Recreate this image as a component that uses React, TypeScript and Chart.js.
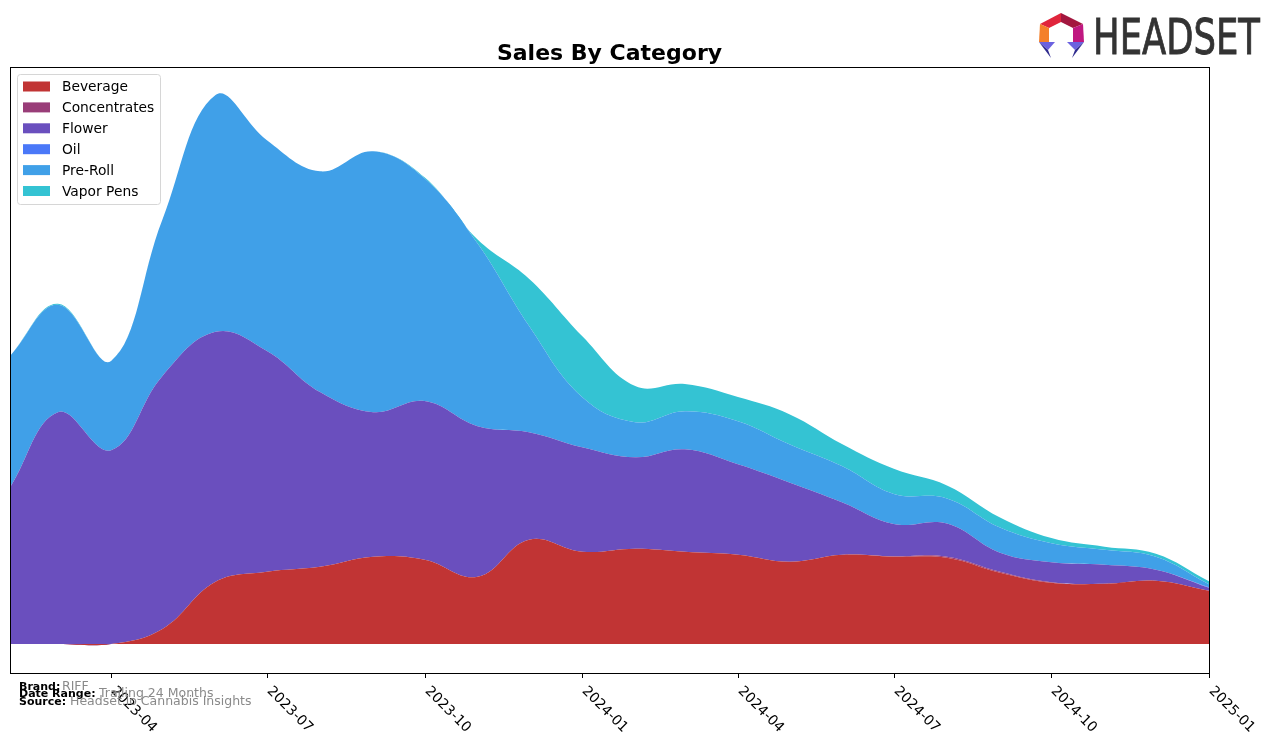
import React, { useEffect, useRef } from "react";
import { Chart, registerables } from "chart.js";

Chart.register(...registerables);

const months = [
  "2023-02", "2023-03", "2023-04", "2023-05", "2023-06", "2023-07", "2023-08", "2023-09",
  "2023-10", "2023-11", "2023-12", "2024-01", "2024-02", "2024-03", "2024-04", "2024-05",
  "2024-06", "2024-07", "2024-08", "2024-09", "2024-10", "2024-11", "2024-12", "2025-01",
];

const categories = ["Beverage", "Concentrates", "Flower", "Oil", "Pre-Roll", "Vapor Pens"];
const colors = ["#C13434", "#993D78", "#6A4FBE", "#4A78F8", "#40A0E8", "#34C3D3"];

const beverage = [0, 0, 0, 15, 62, 72, 77, 87, 84, 67, 104, 92, 95, 92, 89, 82, 89, 87, 86, 71, 61, 60, 63, 53];
const concentrates = [0, 0, 0, 0, 0, 0, 0, 0, 0, 0, 0, 0, 0, 0, 0, 0, 0, 0.5, 1, 1, 0.5, 0, 0, 0];
const flower = [156, 231, 193, 252, 249, 220, 174, 144, 158, 150, 107, 104, 91, 102, 90, 79, 52, 32, 33, 19, 20, 19, 11, 3];
const oil = [0, 0, 0, 0, 0, 0, 0, 0, 0, 0, 0, 0, 0, 0, 0, 0, 0, 0, 0, 0, 0, 0, 0, 0.5];
const preRoll = [131, 107, 89, 156, 236, 210, 220, 260, 222, 182, 106, 50, 35, 38, 43, 38, 36, 30, 25, 25, 19, 15, 13, 3];
const vaporPens = [0, 1, 0, 0, 0, 0, 0, 0, 1, 4, 47, 61, 36, 27, 24, 30, 22, 25, 13, 10, 5, 3, 3, 3];

const seriesValues = [beverage, concentrates, flower, oil, preRoll, vaporPens];

const tickLabels = ["2023-04", "2023-07", "2023-10", "2024-01", "2024-04", "2024-07", "2024-10", "2025-01"];

const brand = "RIFF";
const dateRange = "Trailing 24 Months";
const source = "Headset.io Cannabis Insights";
const title = "Sales By Category";

const base = Date.UTC(2023, 1, 1);
function dayOf(m: string): number {
  const [y, mo] = m.split("-").map(Number);
  return (Date.UTC(y, mo - 1, 1) - base) / 86400000;
}

const overlayPlugin = {
  id: "overlay",
  afterDraw(chart: any) {
    const { ctx, chartArea: a, scales } = chart;
    const xs = scales.x;
    ctx.save();

    // frame
    ctx.strokeStyle = "#000";
    ctx.lineWidth = 1;
    ctx.strokeRect(a.left + 0.5, a.top + 0.5, a.right - a.left, a.bottom - a.top);

    // x ticks & labels
    tickLabels.forEach((t) => {
      const px = Math.round(xs.getPixelForValue(dayOf(t)));
      ctx.beginPath();
      ctx.moveTo(px + 0.5, a.bottom);
      ctx.lineTo(px + 0.5, a.bottom + 5);
      ctx.stroke();
      ctx.save();
      ctx.translate(px + 7, a.bottom + 11);
      ctx.rotate(Math.PI / 4);
      ctx.font = '14px "DejaVu Sans"';
      ctx.fillStyle = "#000";
      ctx.textAlign = "left";
      ctx.textBaseline = "top";
      ctx.fillText(t, 0, 0);
      ctx.restore();
    });

    // title
    ctx.font = 'bold 22px "DejaVu Sans"';
    ctx.fillStyle = "#000";
    ctx.textAlign = "center";
    ctx.textBaseline = "alphabetic";
    ctx.fillText(title, (a.left + a.right) / 2, 60);

    // legend
    const lx = 17, ly = 74, lw = 143, lh = 130;
    ctx.beginPath();
    if (ctx.roundRect) ctx.roundRect(lx + 0.5, ly + 0.5, lw, lh, 3);
    else ctx.rect(lx + 0.5, ly + 0.5, lw, lh);
    ctx.fillStyle = "rgba(255,255,255,0.8)";
    ctx.fill();
    ctx.strokeStyle = "#d6d6d6";
    ctx.stroke();
    ctx.font = '13.8px "DejaVu Sans"';
    ctx.textAlign = "left";
    ctx.textBaseline = "middle";
    categories.forEach((c, i) => {
      const cy = 86.5 + i * 20.9;
      ctx.fillStyle = colors[i];
      ctx.fillRect(23, cy - 5, 27, 10);
      ctx.fillStyle = "#000";
      ctx.fillText(c, 62, cy + 1);
    });

    // footer info
    ctx.textBaseline = "alphabetic";
    const rows: [string, string, number, number][] = [
      ["Brand:", brand, 62, 690],
      ["Date Range:", dateRange, 99, 697],
      ["Source:", source, 70, 705],
    ];
    rows.forEach(([lab, val, vx, y]) => {
      ctx.font = 'bold 11px "DejaVu Sans"';
      ctx.fillStyle = "#000";
      ctx.fillText(lab, 19, y);
      ctx.font = '12.5px "DejaVu Sans"';
      ctx.fillStyle = "#8a8a8a";
      ctx.fillText(val, vx, y);
    });

    ctx.restore();
  },
};

function Logo() {
  return (
    <svg
      width={256}
      height={66}
      viewBox="1020 0 256 66"
      style={{ position: "absolute", left: 1020, top: 0 }}
    >
      <polygon points="1040,24 1061,13 1061,22 1049,28" fill="#E0253C" />
      <polygon points="1061,13 1083,24 1073,28 1061,22" fill="#A3173F" />
      <polygon points="1040,24 1049,28 1049,42 1039,42" fill="#F4802A" />
      <polygon points="1083,24 1084,42 1073,42 1073,28" fill="#C01881" />
      <polygon points="1039,42 1055,42 1048,50" fill="#6B62E0" />
      <polygon points="1039,42 1048,50 1051,58" fill="#2E2A8E" />
      <polygon points="1084,42 1067,42 1075,50" fill="#6B62E0" />
      <polygon points="1084,42 1075,50 1072,58" fill="#2E2A8E" />
      <text
        x={1093}
        y={54}
        fontFamily="DejaVu Sans"
        fontSize={49}
        fill="#333333"
        stroke="#333333"
        strokeWidth={0.9}
        textLength={167}
        lengthAdjust="spacingAndGlyphs"
      >
        HEADSET
      </text>
    </svg>
  );
}

export default function App() {
  const ref = useRef<HTMLCanvasElement | null>(null);

  useEffect(() => {
    if (!ref.current) return;
    const xs = months.map(dayOf);
    const totals = months.map((_, i) => seriesValues.reduce((s, arr) => s + arr[i], 0));
    const M = Math.max(...totals);
    const datasets = categories.map((c, k) => ({
      label: c,
      data: xs.map((x, i) => ({ x, y: seriesValues[k][i] })),
      backgroundColor: colors[k],
      borderColor: colors[k],
      borderWidth: 0,
      pointRadius: 0,
      tension: 0.4,
      fill: k === 0 ? "origin" : "-1",
    }));
    const chart = new Chart(ref.current, {
      type: "line",
      data: { datasets },
      options: {
        animation: false,
        responsive: false,
        devicePixelRatio: 1,
        layout: { padding: { left: 10, top: 67, right: 67, bottom: 70 } },
        plugins: {
          legend: { display: false },
          title: { display: false },
          tooltip: { enabled: false },
        },
        scales: {
          x: { type: "linear", display: false, min: xs[0], max: xs[xs.length - 1] },
          y: { display: false, stacked: true, min: -0.0528 * M, max: 1.051 * M },
        },
      } as any,
      plugins: [overlayPlugin],
    });
    return () => chart.destroy();
  }, []);

  return (
    <div style={{ position: "fixed", left: 0, top: 0, width: 1276, height: 743, background: "#fff" }}>
      <canvas ref={ref} width={1276} height={743} style={{ display: "block" }} />
      <Logo />
    </div>
  );
}
